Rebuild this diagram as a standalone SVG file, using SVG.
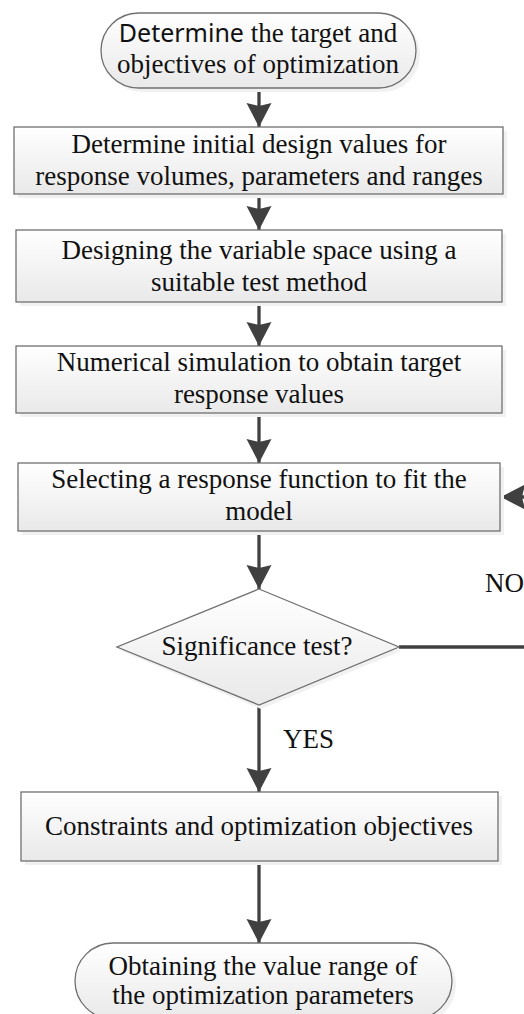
<svg xmlns="http://www.w3.org/2000/svg" width="524" height="1014" viewBox="0 0 524 1014">
  <defs>
    <linearGradient id="fillGrad" x1="0" y1="0" x2="0" y2="1">
      <stop offset="0" stop-color="#ffffff"/>
      <stop offset="1" stop-color="#e9e9e9"/>
    </linearGradient>
    <marker id="arrow" markerUnits="userSpaceOnUse" markerWidth="26" markerHeight="26" refX="24" refY="12.5" orient="auto" viewBox="0 0 26 26">
      <path d="M0,0 L24,12.5 L0,25 L3,12.5 Z" fill="#404040"/>
    </marker>
    <style>
      .shape { fill: url(#fillGrad); stroke: #707070; stroke-width: 1.3; }
      .shadow { fill: #f1f1f1; stroke: none; }
      .label { font-family: "Liberation Serif", "Times New Roman", serif; font-size: 27px; fill: #111111; text-anchor: middle; }
      .side { font-family: "Liberation Serif", "Times New Roman", serif; font-size: 27px; fill: #111111; }
      .sans { font-family: "Noto Sans", "Liberation Sans", sans-serif; font-size: 25px; }
      .conn { fill: none; stroke: #404040; stroke-width: 3.3; }
    </style>
  </defs>

  <rect width="524" height="1014" fill="#ffffff"/>

  <!-- connectors -->
  <g id="connectors">
    <path class="conn" d="M259,88 L259,127" marker-end="url(#arrow)"/>
    <path class="conn" d="M259,194 L259,230" marker-end="url(#arrow)"/>
    <path class="conn" d="M259,302 L259,346" marker-end="url(#arrow)"/>
    <path class="conn" d="M259,413 L259,463" marker-end="url(#arrow)"/>
    <path class="conn" d="M259,531 L259,589" marker-end="url(#arrow)"/>
    <path class="conn" d="M259,705 L259,792" marker-end="url(#arrow)"/>
    <path class="conn" d="M259,861 L259,943" marker-end="url(#arrow)"/>
    <!-- NO branch loops back to the model-fitting step -->
    <path class="conn" d="M399,647 L545,647 L545,497 L501,497" marker-end="url(#arrow)"/>
    <text class="side" x="283" y="748">YES</text>
    <text class="side" x="485" y="592">NO</text>
  </g>

  <g id="start">
    <rect class="shadow" x="105" y="17" width="315" height="75" rx="37.5"/>
    <rect class="shape" x="101" y="13" width="315" height="75" rx="37.5"/>
    <text class="label" x="258" y="42"><tspan class="sans">Determine</tspan> the target and</text>
    <text class="label" x="258" y="73">objectives of optimization</text>
  </g>

  <g id="initial-values">
    <rect class="shadow" x="18" y="131" width="489" height="67"/>
    <rect class="shape" x="14" y="127" width="489" height="67"/>
    <text class="label" x="259" y="153">Determine initial design values for</text>
    <text class="label" x="259" y="185">response volumes, parameters and ranges</text>
  </g>

  <g id="variable-space">
    <rect class="shadow" x="20" y="234" width="486" height="72"/>
    <rect class="shape" x="16" y="230" width="486" height="72"/>
    <text class="label" x="259" y="259">Designing the variable space using a</text>
    <text class="label" x="259" y="291">suitable test method</text>
  </g>

  <g id="simulation">
    <rect class="shadow" x="20" y="350" width="486" height="67"/>
    <rect class="shape" x="16" y="346" width="486" height="67"/>
    <text class="label" x="259" y="371">Numerical simulation to obtain target</text>
    <text class="label" x="259" y="403">response values</text>
  </g>

  <g id="response-function">
    <rect class="shadow" x="22" y="467" width="482" height="68"/>
    <rect class="shape" x="18" y="463" width="482" height="68"/>
    <text class="label" x="259" y="488">Selecting a response function to fit the</text>
    <text class="label" x="259" y="520">model</text>
  </g>

  <g id="significance">
    <polygon class="shadow" points="261,593 401,651 261,709 121,651"/>
    <polygon class="shape" points="259,589 399,647 259,705 117,647"/>
    <text class="label" x="257" y="655">Significance test?</text>
  </g>

  <g id="constraints">
    <rect class="shadow" x="25" y="796" width="477" height="69"/>
    <rect class="shape" x="21" y="792" width="477" height="69"/>
    <text class="label" x="259" y="835">Constraints and optimization objectives</text>
  </g>

  <g id="result">
    <rect class="shadow" x="79" y="947" width="377" height="76" rx="38"/>
    <rect class="shape" x="75" y="943" width="377" height="76" rx="38"/>
    <text class="label" x="263" y="975">Obtaining the value range of</text>
    <text class="label" x="263" y="1004">the optimization parameters</text>
  </g>
</svg>
